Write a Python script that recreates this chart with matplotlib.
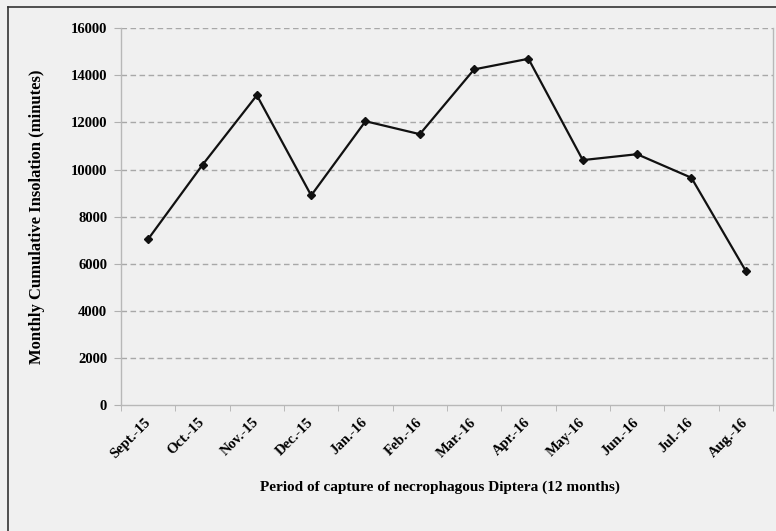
import numpy as np
import matplotlib.pyplot as plt
from matplotlib.lines import Line2D

# données
mois = ["Sept.-15", "Oct.-15", "Nov.-15", "Dec.-15", "Jan.-16", "Feb.-16",
        "Mar.-16", "Apr.-16", "May-16", "Jun.-16", "Jul.-16", "Aug.-16"]
insolation = [7050, 10200, 13150, 8900, 12050, 11500,
              14250, 14700, 10400, 10650, 9650, 5700]
yticks = [0, 2000, 4000, 6000, 8000, 10000, 12000, 14000, 16000]

plt.rcParams['font.family'] = ['Liberation Serif', 'DejaVu Serif']
fond = '#f0f0f0'

fig = plt.figure(figsize=(7.76, 5.31), dpi=100, facecolor=fond)
ax = fig.add_axes([0.156, 0.237, 0.840, 0.710], facecolor=fond)

x = np.arange(len(mois))
ax.plot(x, insolation, color='#111111', lw=1.6, marker='D', ms=4,
        markerfacecolor='#111111', zorder=3)

ax.set_xlim(-0.5, len(mois) - 0.5)
ax.set_ylim(0, 16000)
ax.set_yticks(yticks)
ax.set_yticklabels([str(v) for v in yticks], fontsize=10.5, fontweight='bold')
ax.set_xticks(x)
ax.set_xticklabels(mois, rotation=45, ha='right', va='center',
                   rotation_mode='anchor', fontsize=10.5, fontweight='bold')

# graduations entre les catégories
ax.set_xticks(np.arange(-0.5, len(mois)), minor=True)
ax.tick_params(axis='x', which='major', length=0, pad=11)
ax.tick_params(axis='x', which='minor', length=4, color='#b0b0b0')
ax.tick_params(axis='y', length=5, color='#b0b0b0', pad=5)

for v in yticks[1:]:
    ax.axhline(v, color='#a8a8a8', lw=1, ls=(0, (4, 2.5)), zorder=1)

ax.spines['top'].set_visible(False)
for s in ['left', 'right', 'bottom']:
    ax.spines[s].set_color('#b8b8b8')
    ax.spines[s].set_linewidth(1)

ax.set_ylabel('Monthly Cumulative Insolation (minutes)', fontsize=12,
              fontweight='bold')
ax.yaxis.set_label_coords(-0.117, 0.5)
fig.text(0.567, 0.083, 'Period of capture of necrophagous Diptera (12 months)',
         ha='center', va='center', fontsize=11, fontweight='bold')

# cadre extérieur (haut et gauche seulement)
fig.add_artist(Line2D([8 / 776, 1], [1 - 7 / 531, 1 - 7 / 531],
                      transform=fig.transFigure, color='#333333', lw=1.2))
fig.add_artist(Line2D([8 / 776, 8 / 776], [0, 1 - 7 / 531],
                      transform=fig.transFigure, color='#333333', lw=1.2))

fig.savefig('out.png', dpi=100, facecolor=fond)
